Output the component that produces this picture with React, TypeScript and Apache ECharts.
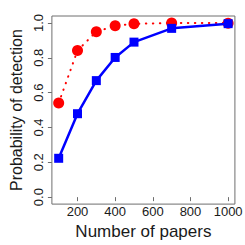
import React, { useEffect, useRef } from "react";
import * as echarts from "echarts";

const papers = [100, 200, 300, 400, 500, 700, 1000];
const redSeries = [0.54, 0.842, 0.95, 0.984, 0.995, 1.0, 0.999];
const blueSeries = [0.223, 0.479, 0.669, 0.802, 0.89, 0.969, 0.996];
const xTicks = [200, 400, 600, 800, 1000];
const yTicks = [0, 0.2, 0.4, 0.6, 0.8, 1.0];

export default function App() {
  const ref = useRef<HTMLDivElement>(null);
  useEffect(() => {
    if (!ref.current) return;
    const chart = echarts.init(ref.current, undefined, { renderer: "svg" });
    const font = "Liberation Sans";
    chart.setOption({
      animation: false,
      grid: {
        left: 36,
        right: 8,
        top: 16,
        bottom: 39,
        show: true,
        borderColor: "#6e6e6e",
        borderWidth: 1,
        backgroundColor: "transparent",
      },
      xAxis: {
        type: "value",
        min: 64,
        max: 1036,
        name: "Number of papers",
        nameLocation: "middle",
        nameGap: 17,
        nameTextStyle: { fontFamily: font, fontSize: 17, color: "#1a1a1a" },
        axisLine: { show: false },
        splitLine: { show: false },
        axisTick: {
          show: true,
          length: 4,
          customValues: xTicks,
          lineStyle: { color: "#6e6e6e" },
        },
        axisLabel: {
          customValues: xTicks,
          fontFamily: font,
          fontSize: 13,
          color: "#1a1a1a",
          margin: 1,
          formatter: (v: number) => String(v),
        },
      },
      yAxis: {
        type: "value",
        min: -0.04,
        max: 1.04,
        name: "Probability of detection",
        nameLocation: "middle",
        nameGap: 20,
        nameTextStyle: { fontFamily: font, fontSize: 16, color: "#1a1a1a" },
        axisLine: { show: false },
        splitLine: { show: false },
        axisTick: {
          show: true,
          length: 4,
          customValues: yTicks,
          lineStyle: { color: "#6e6e6e" },
        },
        axisLabel: {
          customValues: yTicks,
          rotate: 90,
          fontFamily: font,
          fontSize: 13,
          color: "#1a1a1a",
          margin: 7,
          formatter: (v: number) => v.toFixed(1),
        },
      },
      series: [
        {
          type: "line",
          data: papers.map((p, i) => [p, redSeries[i]]),
          symbol: "circle",
          symbolSize: 11,
          itemStyle: { color: "#ff0000" },
          lineStyle: { color: "#ff0000", width: 2, type: [0.5, 6.5], cap: "round" },
          z: 2,
        },
        {
          type: "line",
          data: papers.map((p, i) => [p, blueSeries[i]]),
          symbol: "rect",
          symbolSize: 9,
          itemStyle: { color: "#0000ff" },
          lineStyle: { color: "#0000ff", width: 2.5 },
          z: 3,
        },
      ],
    });
    return () => chart.dispose();
  }, []);
  return <div ref={ref} style={{ width: 245, height: 245, position: "absolute", left: 0, top: 0 }} />;
}
